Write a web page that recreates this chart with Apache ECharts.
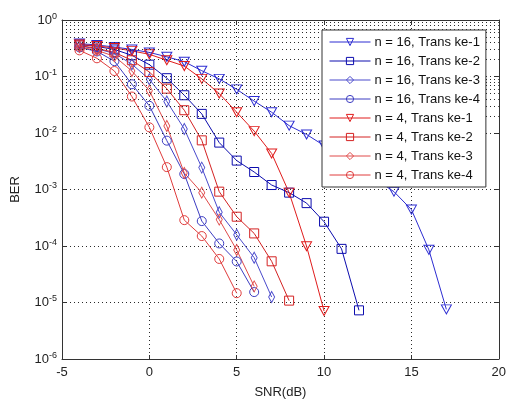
<!DOCTYPE html>
<html><head><meta charset="utf-8">
<script src="https://cdn.jsdelivr.net/npm/echarts@6/dist/echarts.min.js"></script>
<style>html,body{margin:0;padding:0;background:#fff}#c{width:509px;height:404px}</style>
</head><body><div id="c"></div>
<script>
// ---- data ----
const xTickValues = [-5, 0, 5, 10, 15, 20];
const yDecades = [1, 1e-1, 1e-2, 1e-3, 1e-4, 1e-5, 1e-6];

const names = ['n = 16, Trans ke-1','n = 16, Trans ke-2','n = 16, Trans ke-3','n = 16, Trans ke-4',
               'n = 4, Trans ke-1','n = 4, Trans ke-2','n = 4, Trans ke-3','n = 4, Trans ke-4'];

const snr_n16_ke1 = [-4,-3,-2,-1,0,1,2,3,4,5,6,7,8,9,10,11,12,13,14,15,16,17];
const ber_n16_ke1 = [0.383,0.361,0.333,0.301,0.267,0.223,0.183,0.1266,0.0908,0.0592,0.0367,0.0233,0.0135,0.00942,0.0060,0.00371,0.00239,0.00148,9.16e-4,4.41e-4,8.55e-5,7.56e-6];

const snr_n16_ke2 = [-4,-3,-2,-1,0,1,2,3,4,5,6,7,8,9,10,11,12];
const ber_n16_ke2 = [0.368,0.340,0.301,0.237,0.162,0.0934,0.0466,0.0218,0.00676,0.00325,0.00204,0.00120,8.8e-4,5.74e-4,2.69e-4,8.9e-5,7.26e-6];

const snr_n16_ke3 = [-4,-3,-2,-1,0,1,2,3,4,5,6,7];
const ber_n16_ke3 = [0.347,0.308,0.257,0.165,0.0891,0.0362,0.0118,0.00244,3.96e-4,1.58e-4,6.21e-5,1.25e-5];

const snr_n16_ke4 = [-4,-3,-2,-1,0,1,2,3,4,5,6];
const ber_n16_ke4 = [0.327,0.278,0.187,0.0729,0.0303,0.00732,0.00188,2.76e-4,1.11e-4,5.32e-5,1.53e-5];

const snr_n4_ke1 = [-4,-3,-2,-1,0,1,2,3,4,5,6,7,8,9,10];
const ber_n4_ke1 = [0.368,0.347,0.320,0.284,0.247,0.194,0.153,0.0908,0.0499,0.0233,0.0108,0.00435,8.8e-4,9.88e-5,7.06e-6];

const snr_n4_ke2 = [-4,-3,-2,-1,0,1,2,3,4,5,6,7,8];
const ber_n4_ke2 = [0.354,0.314,0.267,0.194,0.120,0.0609,0.0253,0.00741,9.16e-4,3.30e-4,1.67e-4,5.36e-5,1.08e-5];

const snr_n4_ke3 = [-4,-3,-2,-1,0,1,2,3,4,5,6];
const ber_n4_ke3 = [0.333,0.290,0.228,0.125,0.0562,0.0133,0.00196,8.8e-4,2.93e-4,8.49e-5,1.93e-5];

const snr_n4_ke4 = [-4,-3,-2,-1,0,1,2,3,4,5];
const ber_n4_ke4 = [0.290,0.210,0.125,0.0442,0.0126,0.00249,2.87e-4,1.50e-4,5.90e-5,1.46e-5];

// minor grid positions of the log axis (2..9 x 10^k)
const minorGridValues = [];
for (let k = -6; k <= -1; k++) for (let m = 2; m <= 9; m++) minorGridValues.push(m * Math.pow(10, k));

// ---- styling ----
const FONT = '"Liberation Sans", Arial, sans-serif';
const blues = ['#2d2dd2', '#0c0cae', '#4a4acc', '#3d3dc2'];
const reds  = ['#e01c1c', '#d42222', '#e04a4a', '#e03c3c'];
const gridDash = [1, 3];
const gridColor = '#2a2a2a';

function mk(name, xs, ys, color, symbol, size, rotate) {
  return {
    type: 'line', name: name,
    data: xs.map((x, i) => [x, ys[i]]),
    symbol: symbol, symbolSize: size, symbolRotate: rotate || 0,
    showAllSymbol: true,
    lineStyle: { color: color, width: 1 },
    itemStyle: { color: 'rgba(255,255,255,0)', borderColor: color, borderWidth: 1 },
    emphasis: { disabled: true },
    animation: false, z: 3
  };
}

const series = [
  mk(names[0], snr_n16_ke1, ber_n16_ke1, blues[0], 'triangle', [10, 9], 180),
  mk(names[1], snr_n16_ke2, ber_n16_ke2, blues[1], 'rect', [9, 9]),
  mk(names[2], snr_n16_ke3, ber_n16_ke3, blues[2], 'diamond', [6, 11]),
  mk(names[3], snr_n16_ke4, ber_n16_ke4, blues[3], 'circle', 9),
  mk(names[4], snr_n4_ke1, ber_n4_ke1, reds[0], 'triangle', [10, 9], 180),
  mk(names[5], snr_n4_ke2, ber_n4_ke2, reds[1], 'rect', [9, 9]),
  mk(names[6], snr_n4_ke3, ber_n4_ke3, reds[2], 'diamond', [6, 11]),
  mk(names[7], snr_n4_ke4, ber_n4_ke4, reds[3], 'circle', 9),
  {
    type: 'line', name: 'minorGrid', data: [], silent: true, animation: false, z: 1,
    markLine: {
      silent: true, symbol: 'none', animation: false,
      label: { show: false },
      lineStyle: { type: gridDash, color: gridColor, width: 1 },
      emphasis: { disabled: true },
      data: minorGridValues.map(v => ({ yAxis: v }))
    }
  }
];

const chart = echarts.init(document.getElementById('c'), null, { renderer: 'canvas' });
chart.setOption({
  animation: false,
  backgroundColor: '#fff',
  textStyle: { fontFamily: FONT },
  grid: { left: 62, right: 6, top: 20, bottom: 38, containLabel: false },
  legend: {
    data: names,
    orient: 'vertical',
    left: 322, top: 30,
    padding: [5, 6, 5, 7],
    itemWidth: 41, itemHeight: 9, itemGap: 5,
    backgroundColor: '#fff',
    borderColor: '#333', borderWidth: 1,
    lineStyle: { width: 1 },
    itemStyle: { borderWidth: 1 },
    textStyle: { fontFamily: FONT, fontSize: 13, color: '#111', lineHeight: 14, padding: [0, 0, 0, -1] },
    selectedMode: false,
    z: 10
  },
  xAxis: [{
    type: 'value', min: -5, max: 20, interval: 5,
    axisLine: { show: true, onZero: false, lineStyle: { color: '#333', width: 1 } },
    axisTick: { show: true, inside: true, length: 4, lineStyle: { color: '#333' } },
    axisLabel: { fontFamily: FONT, fontSize: 13, color: '#222', margin: 7,
      formatter: v => (xTickValues.indexOf(v) >= 0 ? String(v) : '') },
    splitLine: { show: true, lineStyle: { type: gridDash, color: gridColor, width: 1 } },
    name: 'SNR(dB)', nameLocation: 'middle', nameGap: 27,
    nameTextStyle: { fontFamily: FONT, fontSize: 13, color: '#222' }
  }, {
    type: 'value', min: -5, max: 20, interval: 5, position: 'top',
    axisLine: { show: true, onZero: false, lineStyle: { color: '#333', width: 1 } },
    axisTick: { show: true, inside: true, length: 4, lineStyle: { color: '#333' } },
    axisLabel: { show: false }, splitLine: { show: false }
  }],
  yAxis: [{
    type: 'log', logBase: 10, min: 1e-6, max: 1, splitNumber: 6,
    axisLine: { show: true, onZero: false, lineStyle: { color: '#333', width: 1 } },
    axisTick: { show: true, inside: true, length: 4, lineStyle: { color: '#333' } },
    axisLabel: {
      margin: 5, color: '#222',
      formatter: v => {
        const e = Math.round(Math.log10(v));
        return '{b|10}{s|' + e + '}';
      },
      rich: {
        b: { fontFamily: FONT, fontSize: 13, color: '#222', lineHeight: 16 },
        s: { fontFamily: FONT, fontSize: 9, color: '#222', lineHeight: 16, verticalAlign: 'top', padding: [0, 0, 9, 0] }
      }
    },
    splitLine: { show: true, lineStyle: { type: gridDash, color: gridColor, width: 1 } },
    name: 'BER', nameLocation: 'middle', nameGap: 40,
    nameTextStyle: { fontFamily: FONT, fontSize: 13, color: '#222' }
  }, {
    type: 'log', logBase: 10, min: 1e-6, max: 1, splitNumber: 6, position: 'right',
    axisLine: { show: true, onZero: false, lineStyle: { color: '#333', width: 1 } },
    axisTick: { show: true, inside: true, length: 4, lineStyle: { color: '#333' } },
    axisLabel: { show: false }, splitLine: { show: false }
  }],
  series: series
});
</script>
</body></html>
